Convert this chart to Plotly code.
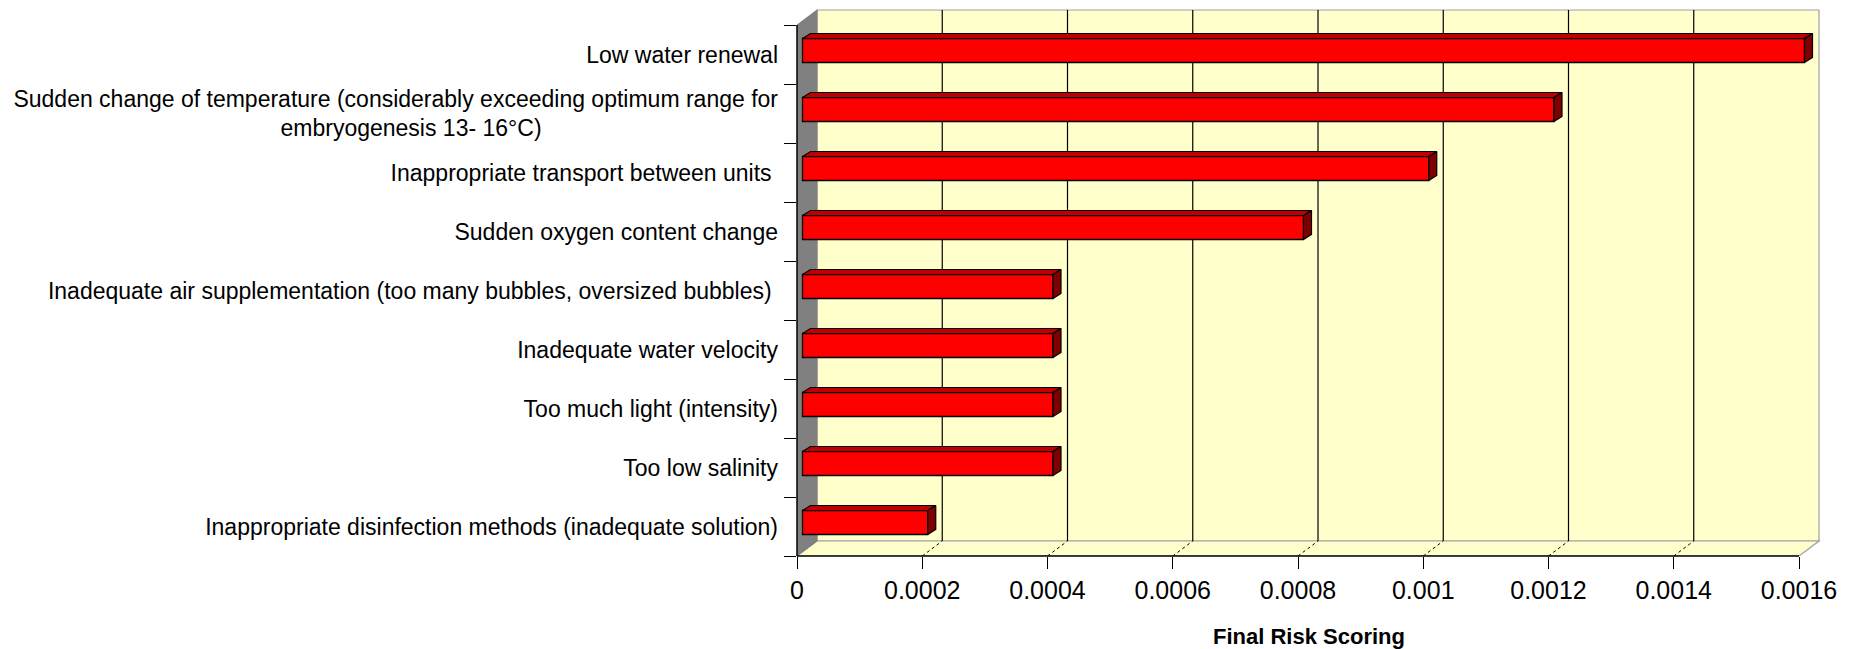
import plotly.graph_objects as go

# ---- data -------------------------------------------------------------
categories = [
    "Low water renewal",
    "Sudden change of temperature (considerably exceeding optimum range for<br>"
    "embryogenesis 13- 16°C)" + "\u00a0" * 37,
    "Inappropriate transport between units\u00a0",
    "Sudden oxygen content change",
    "Inadequate air supplementation (too many bubbles, oversized bubbles)\u00a0",
    "Inadequate water velocity",
    "Too much light (intensity)",
    "Too low salinity",
    "Inappropriate disinfection methods (inadequate solution)",
]
risk_scores = [0.0016, 0.0012, 0.001, 0.0008, 0.0004, 0.0004, 0.0004, 0.0004, 0.0002]
x_ticks = [0, 0.0002, 0.0004, 0.0006, 0.0008, 0.001, 0.0012, 0.0014, 0.0016]
x_tick_labels = ["0", "0.0002", "0.0004", "0.0006", "0.0008", "0.001", "0.0012", "0.0014", "0.0016"]
x_title = "Final Risk Scoring"

# ---- page / 3D box geometry (pixels) -----------------------------------
W, H = 1854, 649
FRONT_L, FRONT_R = 797, 1799      # front plane: value 0 .. max
FRONT_T, FRONT_B = 25, 556        # front plane: first .. last category edge
DEPTH_X, DEPTH_Y = 20, 15         # depth of the box
BAR_OFF_X, BAR_OFF_Y = 5.5, 4     # bar front face inside the box
BAR_H = 24                        # bar thickness
BAR_DX, BAR_DY = 8, 5             # bar depth
PAD = 2

FONT = "Liberation Sans, Arial, sans-serif"
WALL = "#FFFFCC"
SIDE = "#808080"
EDGE = "#A0A0A0"
RED, RED_TOP, RED_SIDE = "#FF0000", "#C00000", "#800000"

n = len(categories)
x_max = x_ticks[-1]
sx = (FRONT_R - FRONT_L) / x_max          # px per value unit
sy = (FRONT_B - FRONT_T) / n              # px per category

dxu, dyu = DEPTH_X / sx, DEPTH_Y / sy
bxu, byu = BAR_OFF_X / sx, BAR_OFF_Y / sy
bdxu, bdyu = BAR_DX / sx, BAR_DY / sy
bh = BAR_H / sy

top_y = -0.5
bot_y = n - 0.5

plot_right = FRONT_R + DEPTH_X + PAD
plot_top = FRONT_T - DEPTH_Y - PAD

fig = go.Figure()

# front faces of the bars
ypos = [i - byu for i in range(n)]
fig.add_trace(go.Bar(
    orientation="h",
    x=risk_scores,
    y=ypos,
    base=[bxu] * n,
    width=bh,
    marker=dict(color=RED, line=dict(color="black", width=1.3)),
    hoverinfo="skip",
))

# top and right faces of the bars
tx, ty, rx, ry = [], [], [], []
for v, yc in zip(risk_scores, ypos):
    x0, x1 = bxu, bxu + v
    yt, yb = yc - bh / 2, yc + bh / 2
    tx += [x0, x1, x1 + bdxu, x0 + bdxu, x0, None]
    ty += [yt, yt, yt - bdyu, yt - bdyu, yt, None]
    rx += [x1, x1 + bdxu, x1 + bdxu, x1, x1, None]
    ry += [yt, yt - bdyu, yb - bdyu, yb, yt, None]
fig.add_trace(go.Scatter(x=tx, y=ty, mode="lines", fill="toself", fillcolor=RED_TOP,
                         line=dict(color="black", width=1.2), hoverinfo="skip"))
fig.add_trace(go.Scatter(x=rx, y=ry, mode="lines", fill="toself", fillcolor=RED_SIDE,
                         line=dict(color="black", width=1.2), hoverinfo="skip"))

shapes = []
# back wall
shapes.append(dict(type="rect", layer="below", xref="x", yref="y",
                   x0=dxu, x1=x_max + dxu, y0=top_y - dyu, y1=bot_y - dyu,
                   fillcolor=WALL, line=dict(color=EDGE, width=1.2)))
# floor
shapes.append(dict(type="path", layer="below", xref="x", yref="y",
                   path=f"M0,{bot_y} L{x_max},{bot_y} L{x_max + dxu},{bot_y - dyu} "
                        f"L{dxu},{bot_y - dyu} Z",
                   fillcolor=WALL, line=dict(color=EDGE, width=1.2)))
# left side wall
shapes.append(dict(type="path", layer="below", xref="x", yref="y",
                   path=f"M0,{top_y} L{dxu},{top_y - dyu} L{dxu},{bot_y - dyu} "
                        f"L0,{bot_y} Z",
                   fillcolor=SIDE, line=dict(color=SIDE, width=1)))
# grid lines on the back wall and the floor
for v in x_ticks[1:-1]:
    shapes.append(dict(type="line", layer="below", xref="x", yref="y",
                       x0=v + dxu, x1=v + dxu, y0=top_y - dyu, y1=bot_y - dyu,
                       line=dict(color="black", width=1.2)))
    shapes.append(dict(type="line", layer="below", xref="x", yref="y",
                       x0=v, x1=v + dxu, y0=bot_y, y1=bot_y - dyu,
                       line=dict(color="black", width=1, dash="dot")))
# front axis lines
shapes.append(dict(type="line", xref="x", yref="paper", x0=0, x1=x_max, y0=0, y1=0,
                   line=dict(color="black", width=1.5)))
shapes.append(dict(type="line", xref="paper", yref="y", x0=0, x1=0, y0=top_y, y1=bot_y,
                   line=dict(color="black", width=1.5)))

fig.update_layout(
    width=W, height=H, autosize=False,
    margin=dict(l=FRONT_L, r=W - plot_right, t=plot_top, b=H - FRONT_B, pad=0),
    paper_bgcolor="white", plot_bgcolor="rgba(0,0,0,0)",
    showlegend=False,
    shapes=shapes,
    font=dict(family=FONT, color="black"),
    xaxis=dict(
        range=[0, x_max + (DEPTH_X + PAD) / sx],
        automargin=False,
        tickmode="array", tickvals=x_ticks, ticktext=x_tick_labels,
        ticks="outside", ticklen=12, tickwidth=1.3, tickcolor="black",
        showgrid=False, zeroline=False, showline=False,
        tickfont=dict(size=25, family=FONT, color="black"),
        title=dict(text=f"<b>{x_title}</b>", font=dict(size=22, family=FONT, color="black"),
                   standoff=34),
    ),
    yaxis=dict(
        range=[bot_y, top_y - (DEPTH_Y + PAD) / sy],
        automargin=False,
        tickmode="array", tickvals=list(range(n)), ticktext=categories,
        ticks="", showgrid=False, zeroline=False, showline=False,
        minor=dict(tickmode="array", tickvals=[k - 0.5 for k in range(n + 1)],
                   ticks="outside", ticklen=12, tickwidth=1.3, tickcolor="black",
                   showgrid=False),
        ticklabelstandoff=18,
        tickfont=dict(size=23, family=FONT, color="black"),
    ),
)

fig.write_html("out.html")
